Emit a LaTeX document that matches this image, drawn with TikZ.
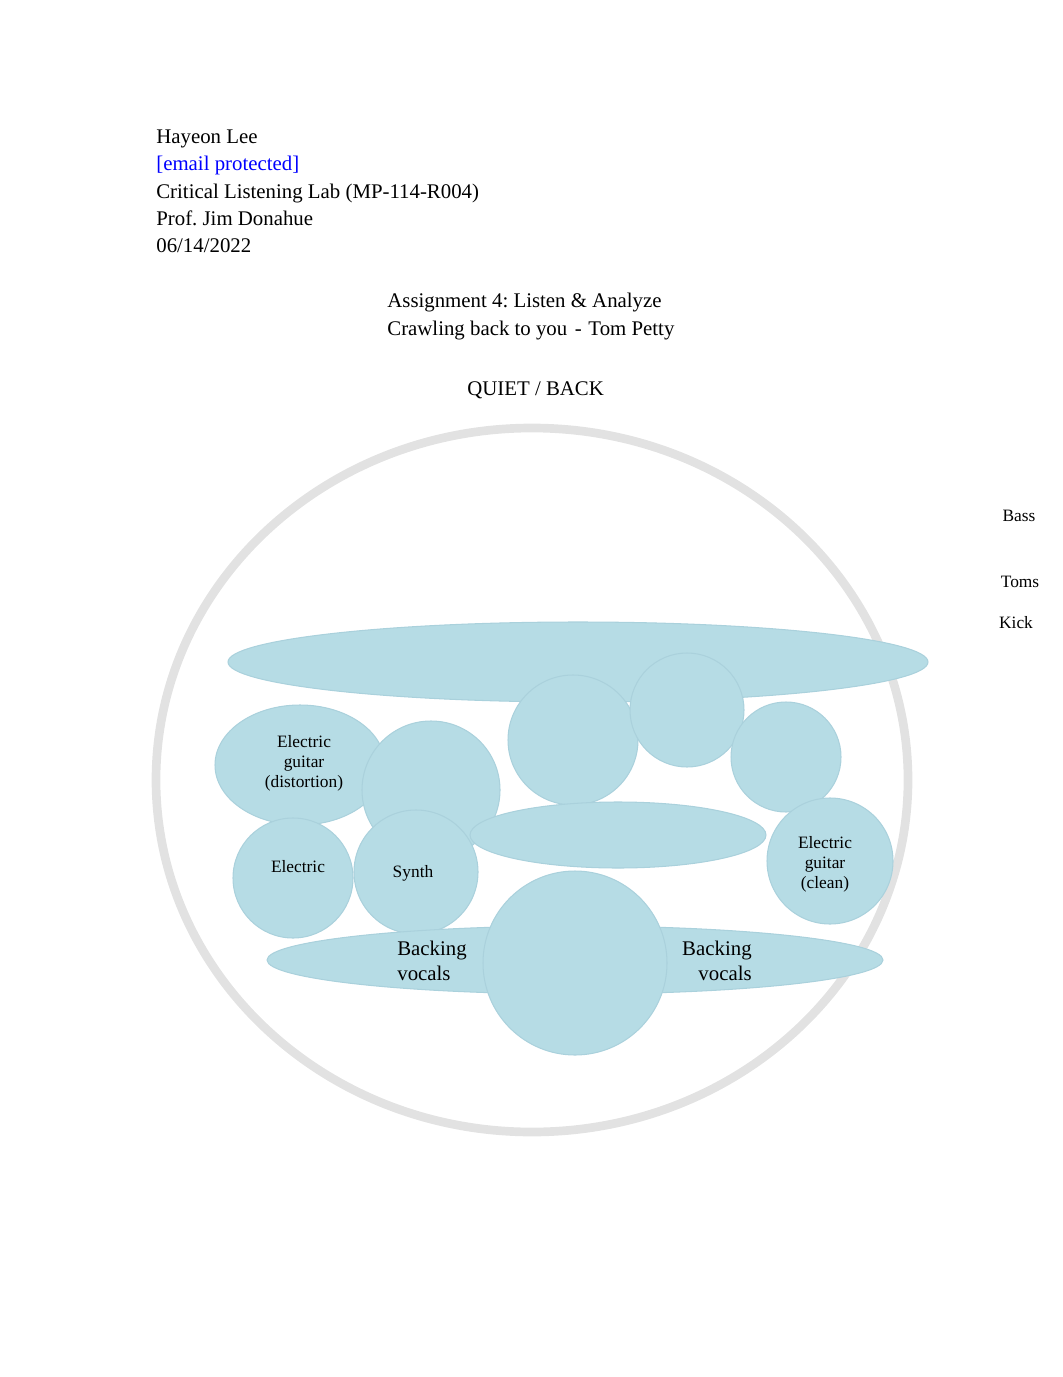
\documentclass[tikz,border=0pt]{standalone}
\usepackage{fontspec}
\setmainfont{Liberation Serif}
\usepackage{xcolor}
\usetikzlibrary{calc,positioning}
\definecolor{mixblue}{RGB}{182,220,229}
\definecolor{mixedge}{RGB}{170,209,220}
\definecolor{ringgray}{RGB}{226,226,226}
\tikzset{blob/.style={fill=mixblue,draw=mixedge,line width=0.6pt},
  head/.style={font=\fontsize{12}{14}\selectfont,anchor=base west,inner sep=0pt},
  lbl/.style={font=\fontsize{10}{11.5}\selectfont,align=center,inner sep=0pt},
  biglbl/.style={font=\fontsize{12}{14}\selectfont,inner sep=0pt}}
\frenchspacing

\begin{document}
\begin{tikzpicture}[x=0.576pt,y=-0.576pt]
\useasboundingbox (0,0) rectangle (1062,1377);
\node[head] (name) at (156,144) {Hayeon Lee};
\node[head,text=blue] (mail) at (156,171) {[email protected]};
\node[head] (course) at (156,199) {Critical Listening Lab (MP-114-R004)};
\node[head] (prof) at (156,226) {Prof. Jim Donahue};
\node[head] (date) at (156,253) {06/14/2022};
\node[head] (title) at (387,308) {Assignment 4: Listen \& Analyze};
\node[head] (song) at (387,336) {Crawling back to you\hspace{4.4pt}-\hspace{3.8pt}Tom Petty};
\node[head] (quiet) at (467,396) {QUIET / BACK};
\coordinate (O) at (532,780);
\draw[ringgray,line width=5pt] (O) ellipse [x radius=376,y radius=352];
\coordinate (S) at (578,662);
\coordinate (D) at (300,765);
\coordinate (P) at (431,790);
\coordinate (C1) at (573,740);
\coordinate (C2) at (687,710);
\coordinate (C3) at (786,757);
\coordinate (M) at (618,835);
\coordinate (E) at (293,878);
\coordinate (Y) at (416,872);
\coordinate (G) at (830,861);
\coordinate (B) at (575,960);
\coordinate (V) at (575,963);
\draw[blob] (S) ellipse [x radius=350,y radius=40];
\draw[blob] (D) ellipse [x radius=85,y radius=60];
\draw[blob] (P) circle [radius=69];
\draw[blob] (C1) circle [radius=65];
\draw[blob] (C2) circle [radius=57];
\draw[blob] (C3) circle [radius=55];
\draw[blob] (M) ellipse [x radius=148,y radius=33];
\draw[blob] (E) circle [radius=60];
\draw[blob] (Y) circle [radius=62];
\draw[blob] (G) circle [radius=63];
\draw[blob] (B) ellipse [x radius=308,y radius=34];
\draw[blob] (V) circle [radius=92];
\node[lbl] (dist) at (304,763) {Electric\\guitar\\(distortion)};
\node[lbl] (elec) at (298,867) {Electric};
\node[lbl] (synth) at (413,873) {Synth};
\node[lbl] (clean) at (825,864) {Electric\\guitar\\(clean)};
\node[biglbl,align=left,anchor=west] (backl) at (397,961) {Backing\\vocals};
\node[biglbl,align=right,anchor=east] (backr) at (752,961) {Backing\\vocals};
\node[lbl,anchor=base] (bass) at (1019,521) {Bass};
\node[lbl,anchor=base] (toms) at (1020,587) {Toms};
\node[lbl,anchor=base] (kick) at (1016,628) {Kick};
\end{tikzpicture}
\end{document}
